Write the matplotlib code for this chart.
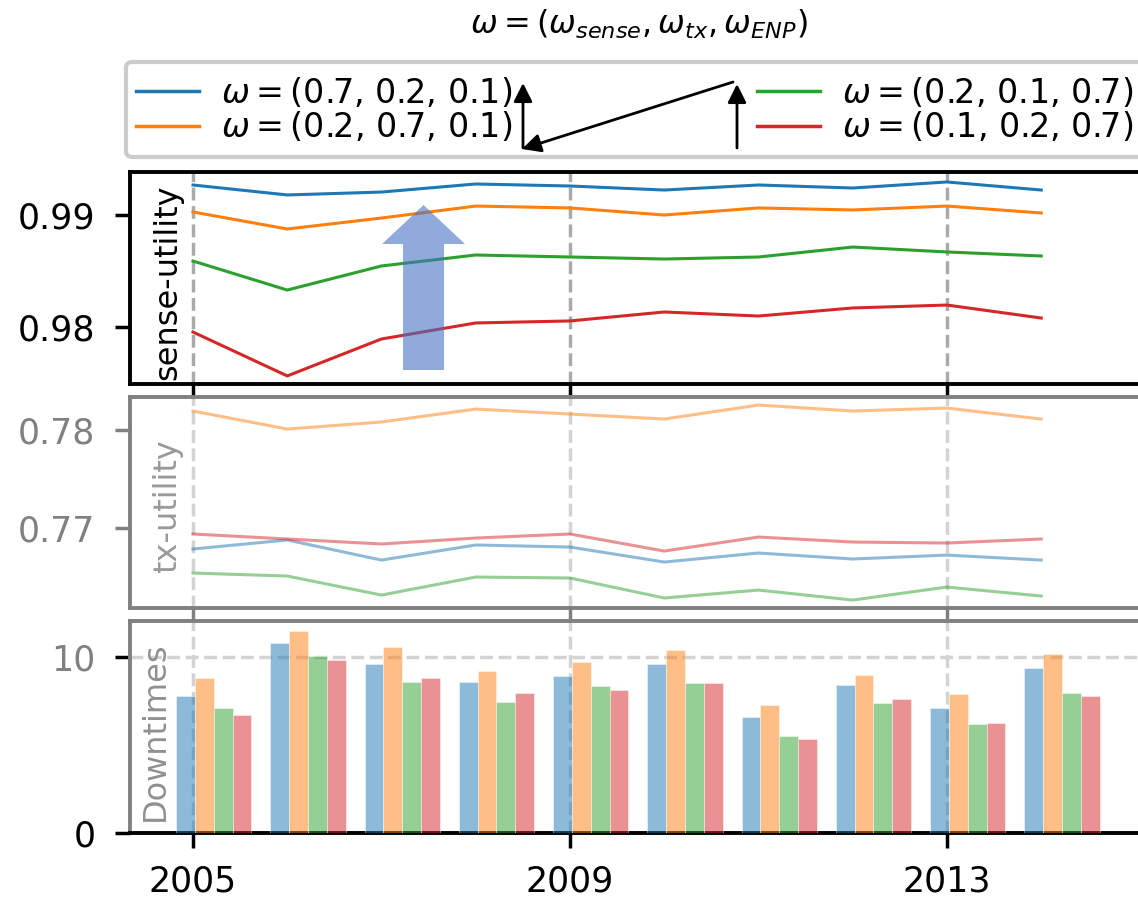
import matplotlib
matplotlib.use("Agg")
import matplotlib.pyplot as plt
from matplotlib.patches import FancyArrow, FancyArrowPatch, FancyBboxPatch
from matplotlib.lines import Line2D
import matplotlib.transforms as mtransforms

# ---------------- data ----------------
years = [2005, 2006, 2007, 2008, 2009, 2010, 2011, 2012, 2013, 2014]
xtick_years = [2005, 2009, 2013]
series_labels = [r"$\omega = $(0.7, 0.2, 0.1)", r"$\omega = $(0.2, 0.7, 0.1)",
                 r"$\omega = $(0.2, 0.1, 0.7)", r"$\omega = $(0.1, 0.2, 0.7)"]
colors = ["#1f77b4", "#ff7f0e", "#2ca02c", "#d62728"]

sense_blue = [0.99268, 0.99179, 0.99205, 0.99277, 0.99259, 0.99223, 0.99268, 0.99241, 0.99295, 0.99223]
sense_orange = [0.99027, 0.98875, 0.98973, 0.99080, 0.99063, 0.99000, 0.99063, 0.99045, 0.99080, 0.99018]
sense_green = [0.98589, 0.98330, 0.98545, 0.98643, 0.98625, 0.98607, 0.98625, 0.98714, 0.98670, 0.98634]
sense_red = [0.97955, 0.97563, 0.97893, 0.98036, 0.98054, 0.98134, 0.98098, 0.98170, 0.98196, 0.98080]

tx_blue = [0.76786, 0.76878, 0.76673, 0.76827, 0.76806, 0.76653, 0.76745, 0.76684, 0.76724, 0.76673]
tx_orange = [0.78194, 0.78010, 0.78082, 0.78214, 0.78163, 0.78112, 0.78255, 0.78194, 0.78224, 0.78112]
tx_green = [0.76541, 0.76510, 0.76316, 0.76500, 0.76490, 0.76286, 0.76367, 0.76265, 0.76398, 0.76306]
tx_red = [0.76939, 0.76888, 0.76837, 0.76898, 0.76939, 0.76765, 0.76908, 0.76857, 0.76847, 0.76888]

down_blue = [7.78, 10.8, 9.6, 8.6, 8.9, 9.6, 6.6, 8.4, 7.1, 9.38]
down_orange = [8.8, 11.48, 10.6, 9.2, 9.7, 10.4, 7.27, 9.0, 7.9, 10.2]
down_green = [7.1, 10.06, 8.6, 7.44, 8.35, 8.5, 5.5, 7.4, 6.2, 7.95]
down_red = [6.7, 9.83, 8.8, 7.95, 8.1, 8.5, 5.34, 7.6, 6.25, 7.78]

sense = [sense_blue, sense_orange, sense_green, sense_red]
tx = [tx_blue, tx_orange, tx_green, tx_red]
down = [down_blue, down_orange, down_green, down_red]

# ---------------- figure ----------------
W, H = 1138, 898
fig = plt.figure(figsize=(W / 100, H / 100), dpi=100)

L = 130 / W
AW = (1200 - 130) / W
ax1 = fig.add_axes([L, 1 - 384 / H, AW, 212 / H])
ax2 = fig.add_axes([L, 1 - 608 / H, AW, 211 / H])
ax3 = fig.add_axes([L, 1 - 833 / H, AW, 212 / H])

px_per_year = 94.25
x0 = 2005 - (193 - 130) / px_per_year
x1 = x0 + 1070 / px_per_year
for ax in (ax1, ax2, ax3):
    ax.set_xlim(x0, x1)
    ax.set_xticks(xtick_years)

gray = "#808080"
FS = 25

# ---- top: sense utility ----
for yv in xtick_years:
    ax1.axvline(yv, color="#aaaaaa", lw=2.5, ls="--", zorder=1)
for vals, c in zip(sense, colors):
    ax1.plot(years, vals, color=c, lw=2.2, zorder=3)
ax1.set_ylim(0.97491, 0.99384)
ax1.set_yticks([0.98, 0.99])
ax1.set_yticklabels(["0.98", "0.99"])
for s in ax1.spines.values():
    s.set_linewidth(2.8)
    s.set_color("black")
ax1.tick_params(axis="y", labelsize=FS, length=11, width=2.5, pad=14, colors="black")
ax1.tick_params(axis="x", labelbottom=False, length=11, width=2.5, colors="black")
trans1 = mtransforms.blended_transform_factory(ax1.transData, ax1.transAxes)
ax1.text(2005 - (193 - 168) / px_per_year, 0.48, "sense-utility", rotation=90,
         ha="center", va="center", fontsize=23, color="black", transform=trans1)
arrow = FancyArrow(2007.446, 0.97616, 0, 0.99089 - 0.97616, width=0.435,
                   head_width=0.88, head_length=0.00348, length_includes_head=True,
                   color="#4472C4", alpha=0.6, lw=0, zorder=5)
ax1.add_patch(arrow)

# ---- middle: tx utility ----
for yv in xtick_years:
    ax2.axvline(yv, color="#d3d3d3", lw=2.5, ls="--", zorder=1)
for vals, c in zip(tx, colors):
    ax2.plot(years, vals, color=c, lw=2.2, alpha=0.5, zorder=3)
ax2.set_ylim(0.76184, 0.78337)
ax2.set_yticks([0.77, 0.78])
ax2.set_yticklabels(["0.77", "0.78"])
for s in ax2.spines.values():
    s.set_linewidth(2.8)
    s.set_color(gray)
ax2.tick_params(axis="y", labelsize=FS, length=11, width=2.5, pad=14, colors=gray)
ax2.tick_params(axis="x", labelbottom=False, length=11, width=2.5, colors=gray)
trans2 = mtransforms.blended_transform_factory(ax2.transData, ax2.transAxes)
ax2.text(2005 - (193 - 168) / px_per_year, 0.483, "tx-utility", rotation=90,
         ha="center", va="center", fontsize=23, color="#999999", transform=trans2)

# ---- bottom: downtimes ----
for yv in xtick_years:
    ax3.axvline(yv, color="#d3d3d3", lw=2.5, ls="--", zorder=1)
ax3.axhline(10, color="#d3d3d3", lw=2.5, ls="--", zorder=1)
bw = 0.2
for i, (vals, c) in enumerate(zip(down, colors)):
    ax3.bar([y - 0.18 + i * bw for y in years], vals, width=bw, align="edge",
            color=c, alpha=0.5, edgecolor="white", linewidth=0.6, zorder=3)
ax3.set_ylim(0, 12.05)
ax3.set_yticks([0, 10])
ax3.set_yticklabels(["0", "10"])
for s in ax3.spines.values():
    s.set_linewidth(2.8)
    s.set_color(gray)
ax3.spines["bottom"].set_color("black")
ax3.tick_params(axis="y", labelsize=FS, length=11, width=2.5, pad=14)
ax3.tick_params(axis="x", labelsize=FS, length=11, width=2.5, pad=12, colors="black")
yt = ax3.yaxis.get_major_ticks()
yt[0].tick1line.set_color("black")
yt[0].label1.set_color("black")
yt[1].tick1line.set_color(gray)
yt[1].label1.set_color(gray)
ax3.set_xticklabels([str(y) for y in xtick_years])
trans3 = mtransforms.blended_transform_factory(ax3.transData, ax3.transAxes)
ax3.text(2005 - (193 - 155) / px_per_year, 0.48, "Downtimes", rotation=90,
         ha="center", va="center", fontsize=23, color="#909090", transform=trans3)

# ---- legend box ----
box = FancyBboxPatch((126 / W, 1 - 157 / H), (1200 - 126) / W, 95 / H,
                     boxstyle="round,pad=0,rounding_size=0.006",
                     transform=fig.transFigure, facecolor="white",
                     edgecolor="#cccccc", lw=3, zorder=4)
fig.add_artist(box)
handles = [Line2D([], [], color=c, lw=2.5) for c in colors]
leg_kw = dict(loc="center left", frameon=False, fontsize=24, borderpad=0,
              borderaxespad=0, labelspacing=0.02, handlelength=1.9,
              handletextpad=0.65)
leg1 = fig.legend(handles[:2], series_labels[:2],
                  bbox_to_anchor=(136 / W, 1 - 110 / H), **leg_kw)
leg2 = fig.legend(handles[2:], series_labels[2:],
                  bbox_to_anchor=(757 / W, 1 - 110 / H), **leg_kw)
leg1.set_zorder(6)
leg2.set_zorder(6)


def fig_arrow(p0, p1):
    a = FancyArrowPatch((p0[0] / W, 1 - p0[1] / H), (p1[0] / W, 1 - p1[1] / H),
                        transform=fig.transFigure, arrowstyle="-|>",
                        mutation_scale=28, lw=2, color="black",
                        shrinkA=0, shrinkB=0, zorder=10)
    fig.add_artist(a)


fig_arrow((523, 148), (523, 83))
fig_arrow((733, 82), (522, 149))
fig_arrow((737, 148), (737, 84))

# ---- title ----
fig.text(639 / W, 1 - 24 / H, r"$\omega = (\omega_{sense}, \omega_{tx}, \omega_{ENP})$",
         ha="center", va="center", fontsize=23)

fig.savefig("out.png", dpi=100)
